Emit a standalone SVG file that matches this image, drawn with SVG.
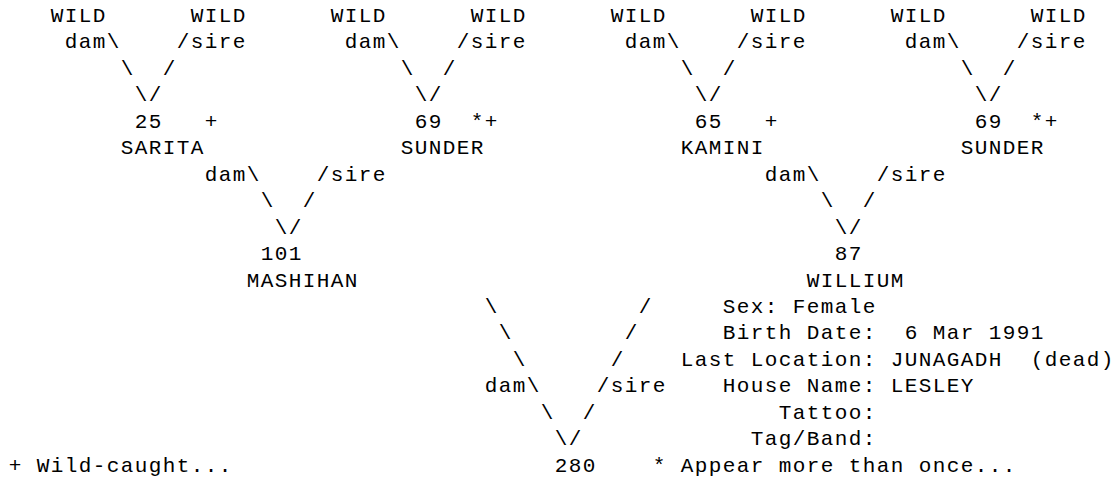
<svg xmlns="http://www.w3.org/2000/svg" width="1117" height="480" viewBox="0 0 1117 480">
<style>
text{font-family:'Liberation Mono','Courier New',monospace;font-size:21px;letter-spacing:1.4px;fill:#000;white-space:pre}
</style>
<rect width="1117" height="480" fill="#fff"/>
<g id="connectors">
<text x="64.7" y="48.4">dam\</text><text x="176.7" y="48.4">/sire</text>
<text x="344.7" y="48.4">dam\</text><text x="456.7" y="48.4">/sire</text>
<text x="624.7" y="48.4">dam\</text><text x="736.7" y="48.4">/sire</text>
<text x="904.7" y="48.4">dam\</text><text x="1016.7" y="48.4">/sire</text>
<text x="120.7" y="74.9">\</text><text x="162.7" y="74.9">/</text>
<text x="400.7" y="74.9">\</text><text x="442.7" y="74.9">/</text>
<text x="680.7" y="74.9">\</text><text x="722.7" y="74.9">/</text>
<text x="960.7" y="74.9">\</text><text x="1002.7" y="74.9">/</text>
<text x="134.7" y="101.3">\/</text>
<text x="414.7" y="101.3">\/</text>
<text x="694.7" y="101.3">\/</text>
<text x="974.7" y="101.3">\/</text>
<text x="204.7" y="180.7">dam\</text><text x="316.7" y="180.7">/sire</text>
<text x="764.7" y="180.7">dam\</text><text x="876.7" y="180.7">/sire</text>
<text x="260.7" y="207.1">\</text><text x="302.7" y="207.1">/</text>
<text x="820.7" y="207.1">\</text><text x="862.7" y="207.1">/</text>
<text x="274.7" y="233.6">\/</text>
<text x="834.7" y="233.6">\/</text>
<text x="484.7" y="312.9">\</text><text x="638.7" y="312.9">/</text>
<text x="498.7" y="339.4">\</text><text x="624.7" y="339.4">/</text>
<text x="512.7" y="365.8">\</text><text x="610.7" y="365.8">/</text>
<text x="484.7" y="392.3">dam\</text><text x="596.7" y="392.3">/sire</text>
<text x="540.7" y="418.7">\</text><text x="582.7" y="418.7">/</text>
<text x="554.7" y="445.2">\/</text>
</g>
<g id="wild1"><text x="50.7" y="22">WILD</text></g>
<g id="wild2"><text x="190.7" y="22">WILD</text></g>
<g id="wild3"><text x="330.7" y="22">WILD</text></g>
<g id="wild4"><text x="470.7" y="22">WILD</text></g>
<g id="wild5"><text x="610.7" y="22">WILD</text></g>
<g id="wild6"><text x="750.7" y="22">WILD</text></g>
<g id="wild7"><text x="890.7" y="22">WILD</text></g>
<g id="wild8"><text x="1030.7" y="22">WILD</text></g>
<g id="sarita"><text x="134.7" y="127.8">25</text><text x="204.7" y="127.8">+</text><text x="120.7" y="154.2">SARITA</text></g>
<g id="sunder1"><text x="414.7" y="127.8">69</text><text x="470.7" y="127.8">*+</text><text x="400.7" y="154.2">SUNDER</text></g>
<g id="kamini"><text x="694.7" y="127.8">65</text><text x="764.7" y="127.8">+</text><text x="680.7" y="154.2">KAMINI</text></g>
<g id="sunder2"><text x="974.7" y="127.8">69</text><text x="1030.7" y="127.8">*+</text><text x="960.7" y="154.2">SUNDER</text></g>
<g id="mashihan"><text x="260.7" y="260">101</text><text x="246.7" y="286.5">MASHIHAN</text></g>
<g id="willium"><text x="834.7" y="260">87</text><text x="806.7" y="286.5">WILLIUM</text></g>
<g id="animal280">
<text x="554.7" y="471.6">280</text>
<text x="722.7" y="312.9">Sex: Female</text>
<text x="722.7" y="339.4">Birth Date:  6 Mar 1991</text>
<text x="680.7" y="365.8">Last Location: JUNAGADH  (dead)</text>
<text x="722.7" y="392.3">House Name: LESLEY</text>
<text x="778.7" y="418.7">Tattoo:</text>
<text x="750.7" y="445.2">Tag/Band:</text>
</g>
<g id="legend">
<text x="8.7" y="471.6">+ Wild-caught...</text>
<text x="652.7" y="471.6">* Appear more than once...</text>
</g>
</svg>
